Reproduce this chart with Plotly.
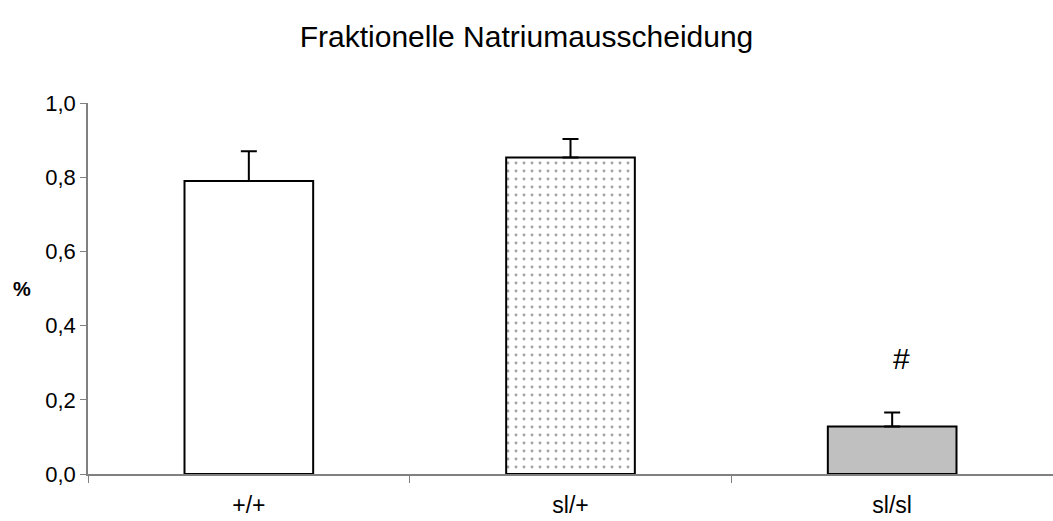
import plotly.graph_objects as go

categories = ["+/+", "sl/+", "sl/sl"]
values = [0.79, 0.853, 0.128]
errors = [0.08, 0.05, 0.038]
y_tickvals = [0.0, 0.2, 0.4, 0.6, 0.8, 1.0]
y_ticktext = ["0,0", "0,2", "0,4", "0,6", "0,8", "1,0"]
significance = ["", "", "#"]
sig_y = [None, None, 0.31]

FONT = "Liberation Sans, Arial, sans-serif"

fig = go.Figure()
fig.add_trace(go.Bar(
    x=categories, y=values,
    error_y=dict(type="data", array=errors, arrayminus=[0, 0, 0], symmetric=False,
                 color="black", thickness=2, width=8),
    marker=dict(
        color=["white", "white", "#c0c0c0"],
        line=dict(color="black", width=2),
        pattern=dict(shape=["", ".", ""], fgcolor="#333333", bgcolor="white",
                     size=8, solidity=0.1, fillmode="overlay"),
    ),
    width=0.4,
    showlegend=False,
))

for c, s, yy in zip(categories, significance, sig_y):
    if s:
        fig.add_annotation(x=c, y=yy, text=s, showarrow=False, xshift=9,
                           font=dict(size=30, color="black", family=FONT))

fig.add_annotation(xref="paper", yref="paper", x=-66/965, y=0.5, text="<b>%</b>",
                   showarrow=False, xanchor="center",
                   font=dict(size=20, color="black", family=FONT))

fig.update_layout(
    width=1053, height=521,
    margin=dict(l=88, r=0, t=103, b=47),
    plot_bgcolor="white", paper_bgcolor="white",
    title=dict(text="Fraktionelle Natriumausscheidung", x=0.5, xref="container",
               xanchor="center", y=0.93, yanchor="middle",
               font=dict(size=30, color="black", family=FONT)),
    font=dict(family=FONT, color="black", size=22),
)
fig.update_xaxes(
    showline=True, linecolor="#808080", linewidth=1.5,
    ticks="outside", tickson="boundaries", ticklen=7, tickcolor="#808080",
    showgrid=False, tickfont=dict(size=23), ticklabelstandoff=10,
)
fig.update_yaxes(
    range=[0, 1.0], tickvals=y_tickvals, ticktext=y_ticktext,
    showline=True, linecolor="#808080", linewidth=1.5,
    ticks="outside", ticklen=6, tickcolor="#808080",
    showgrid=False, zeroline=False, tickfont=dict(size=22),
)

fig.write_html("out.html")
